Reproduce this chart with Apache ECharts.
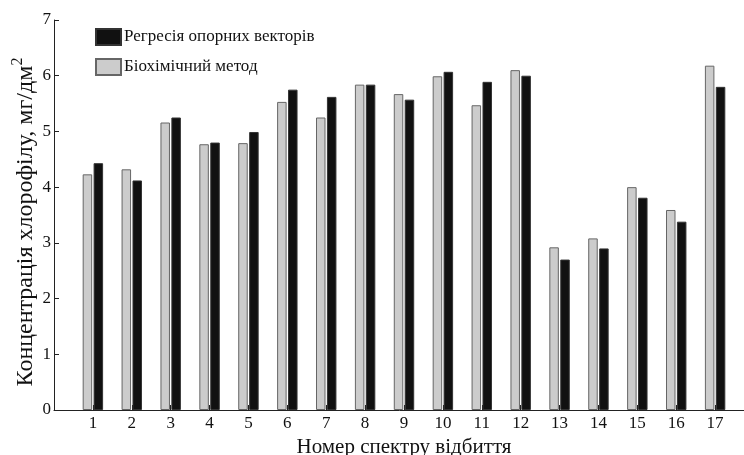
<!DOCTYPE html>
<html>
<head>
<meta charset="utf-8">
<script src="https://cdn.jsdelivr.net/npm/echarts@6/dist/echarts.min.js"></script>
<style>
html,body{margin:0;padding:0;background:#fff;}
#chart{width:744px;height:455px;}
</style>
</head>
<body>
<div id="chart"></div>
<script>
var categories = [1,2,3,4,5,6,7,8,9,10,11,12,13,14,15,16,17];
var biochemical = [4.23,4.32,5.16,4.77,4.79,5.53,5.25,5.84,5.67,5.99,5.47,6.10,2.92,3.08,4.00,3.59,6.18];
var svr = [4.43,4.12,5.25,4.80,4.99,5.75,5.62,5.84,5.57,6.07,5.89,6.00,2.70,2.90,3.81,3.38,5.80];
var yTicks = [0,1,2,3,4,5,6,7];
var seriesNames = ['Регресія опорних векторів', 'Біохімічний метод'];

var FONT = "'Liberation Serif', 'Times New Roman', serif";
var chart = echarts.init(document.getElementById('chart'), null, {renderer:'canvas'});
function pairs(arr){ return categories.map(function(c,i){ return [c, arr[i]]; }); }

chart.setOption({
  animation:false,
  backgroundColor:'#fff',
  grid:{left:54, right:-10, top:20, bottom:45, containLabel:false, outerBoundsMode:'none'},
  legend:{
    orient:'vertical', left:95, top:28, padding:0,
    data:[seriesNames[0], seriesNames[1]],
    icon:'rect', itemWidth:25, itemHeight:16, itemGap:12,
    textStyle:{fontFamily:FONT, fontSize:17, color:'#111', lineHeight:16, padding:[0,0,0,-2]}
  },
  xAxis:{
    type:'value', min:0, max:18, interval:1,
    axisLine:{show:true, lineStyle:{color:'#222', width:1}},
    axisTick:{show:true, inside:true, length:5, lineStyle:{color:'#222'}},
    splitLine:{show:false},
    axisLabel:{
      fontFamily:FONT, fontSize:17, color:'#111', margin:5,
      formatter:function(v){ return categories.indexOf(v) >= 0 ? String(v) : ''; }
    },
    name:'Номер спектру відбиття',
    nameLocation:'middle', nameGap:27, nameMoveOverlap:false,
    nameTextStyle:{fontFamily:FONT, fontSize:21, color:'#111'}
  },
  yAxis:{
    type:'value', min:yTicks[0], max:yTicks[yTicks.length-1], interval:1,
    axisLine:{show:true, lineStyle:{color:'#222', width:1}},
    axisTick:{show:true, inside:true, length:5, lineStyle:{color:'#222'}},
    splitLine:{show:false},
    axisLabel:{fontFamily:FONT, fontSize:17, color:'#111', margin:3},
    name:'{a|Концентрація хлорофілу, мг/дм}{s|2}',
    nameLocation:'middle', nameGap:16, nameRotate:90, nameMoveOverlap:false,
    nameTextStyle:{
      fontFamily:FONT, fontSize:24, color:'#111', padding:[0,14,0,0],
      rich:{
        a:{fontFamily:FONT, fontSize:24, color:'#111', lineHeight:28, verticalAlign:'bottom'},
        s:{fontFamily:FONT, fontSize:16, color:'#111', lineHeight:28, verticalAlign:'top', padding:[0,0,6,0]}
      }
    }
  },
  series:[
    {
      name:seriesNames[1], type:'bar', data:pairs(biochemical),
      barWidth:9.5, barGap:'15%',
      itemStyle:{color:'#cccccc', borderColor:'#666', borderWidth:1}
    },
    {
      name:seriesNames[0], type:'bar', data:pairs(svr),
      barWidth:9.5, barGap:'15%',
      itemStyle:{color:'#111111', borderColor:'#333', borderWidth:1}
    }
  ]
});
</script>
</body>
</html>
